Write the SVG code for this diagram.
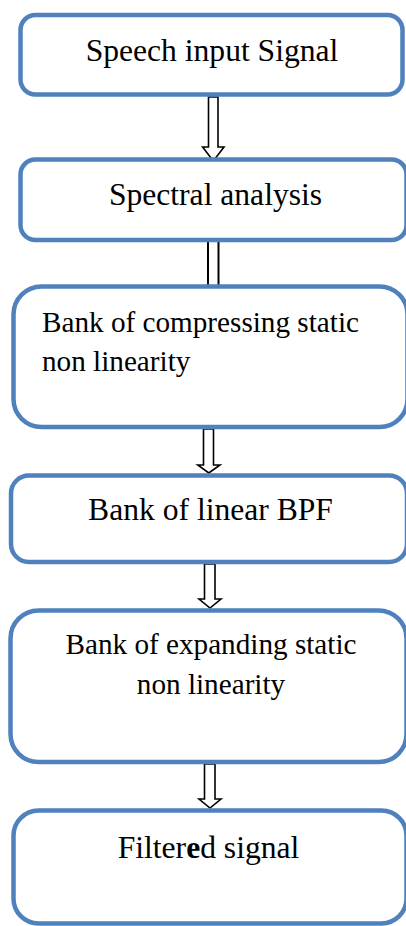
<svg xmlns="http://www.w3.org/2000/svg" width="406" height="926" viewBox="0 0 406 926">
  <style>
    .box { fill: #ffffff; stroke: #4F81BD; stroke-width: 4.5; }
    .lbl { font-family: "Liberation Serif", "Times New Roman", serif; fill: #000000; }
    .big { font-size: 31.6px; }
    .small { font-size: 29.2px; }
    .arrow { fill: #ffffff; stroke: #000000; stroke-width: 1.6; stroke-linejoin: miter; }
    .rail { stroke: #000000; stroke-width: 2; }
  </style>
  <rect width="406" height="926" fill="#ffffff"/>

  <g id="connectors">
    <!-- block arrows between stages -->
    <path class="arrow" d="M208.5,97 L218,97 L218,147 L224,147 L213.3,161 L202.6,147 L208.5,147 Z"/>
    <line class="rail" x1="208" y1="242" x2="208" y2="285"/>
    <line class="rail" x1="218.5" y1="242" x2="218.5" y2="285"/>
    <path class="arrow" d="M203.5,429 L213.5,429 L213.5,465 L220,465 L208.8,473 L197.8,465 L203.5,465 Z"/>
    <path class="arrow" d="M204.5,564 L215,564 L215,599 L221,599 L210,608 L199,599 L204.5,599 Z"/>
    <path class="arrow" d="M204.5,764 L215,764 L215,799 L221,799 L210,808 L199,799 L204.5,799 Z"/>
  </g>

  <g id="speech-input">
    <rect class="box" x="20.5" y="15" width="382" height="79.5" rx="15"/>
    <text class="lbl big" x="212" y="61" text-anchor="middle">Speech input Signal</text>
  </g>

  <g id="spectral-analysis">
    <rect class="box" x="20.5" y="159.5" width="386" height="80.5" rx="15"/>
    <text class="lbl big" x="215.5" y="205" text-anchor="middle">Spectral analysis</text>
  </g>

  <g id="compressing-nonlinearity">
    <rect class="box" x="13.5" y="286.5" width="394" height="140.5" rx="28"/>
    <text class="lbl small" x="42" y="332">Bank of compressing static</text>
    <text class="lbl small" x="42" y="371">non linearity</text>
  </g>

  <g id="linear-bpf">
    <rect class="box" x="11" y="475.5" width="396" height="86.5" rx="18"/>
    <text class="lbl big" x="210.5" y="520" text-anchor="middle">Bank of linear BPF</text>
  </g>

  <g id="expanding-nonlinearity">
    <rect class="box" x="10.5" y="610.5" width="396" height="151.5" rx="28"/>
    <text class="lbl small" x="211" y="654" text-anchor="middle">Bank of expanding static</text>
    <text class="lbl small" x="211" y="694" text-anchor="middle">non linearity</text>
  </g>

  <g id="filtered-signal">
    <rect class="box" x="13.5" y="810.5" width="393" height="113" rx="25"/>
    <text class="lbl big" x="208.5" y="858" text-anchor="middle">Filter<tspan font-weight="bold">e</tspan>d signal</text>
  </g>
</svg>
